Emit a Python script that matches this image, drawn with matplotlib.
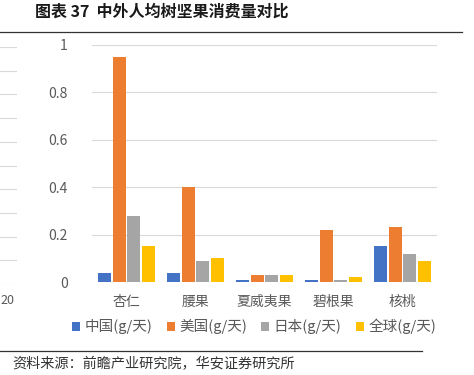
import numpy as np
import matplotlib.pyplot as plt

plt.rcParams['font.family'] = ['Noto Sans CJK SC', 'DejaVu Sans']

categories = ["杏仁", "腰果", "夏威夷果", "碧根果", "核桃"]
series = ["中国(g/天)", "美国(g/天)", "日本(g/天)", "全球(g/天)"]
china = [0.04, 0.04, 0.01, 0.01, 0.15]
usa = [0.95, 0.40, 0.03, 0.22, 0.23]
japan = [0.28, 0.09, 0.03, 0.01, 0.12]
world = [0.15, 0.10, 0.03, 0.02, 0.09]
yticks = [0, 0.2, 0.4, 0.6, 0.8, 1]
colors = ["#4472C4", "#ED7D31", "#A5A5A5", "#FFC000"]

fig = plt.figure(figsize=(4.74, 3.75), dpi=100)

# cropped neighbour chart at the left edge
axl = fig.add_axes([0, 1 - 284 / 375, 17 / 474, 237 / 375])
axl.set_ylim(0, 10)
axl.set_xlim(0, 1)
axl.set_yticks(range(11))
axl.grid(axis="y", color="#D9D9D9", lw=0.8)
axl.tick_params(left=False, bottom=False, labelleft=False, labelbottom=False)
for s in axl.spines.values():
    s.set_visible(False)
fig.text(0.0, 1 - 301 / 375, "20", fontsize=9, color="#595959", va="center")

ax = fig.add_axes([92 / 474, 1 - 282 / 375, 345 / 474, 237 / 375])
x = np.arange(len(categories))
w = 0.19
step = 0.21
for i, (vals, name) in enumerate(zip([china, usa, japan, world], series)):
    ax.bar(x + (i - 1.5) * step, vals, width=w, color=colors[i], label=name, zorder=3)

ax.set_xlim(-0.5, len(categories) - 0.5)
ax.set_ylim(0, 1)
ax.set_yticks(yticks)
ax.set_yticklabels([str(t) if t in (0, 1) else f"{t:.1f}" for t in yticks])
ax.set_xticks(x)
ax.set_xticklabels(categories)
ax.grid(axis="y", color="#D9D9D9", lw=0.8, zorder=0)
for s in ax.spines.values():
    s.set_visible(False)
ax.tick_params(left=False, bottom=False, colors="#595959", labelsize=10, pad=6)
ax.tick_params(axis="y", pad=14)

ax.legend(loc="upper center", bbox_to_anchor=(0.47, -0.1), ncol=4, frameon=False,
          fontsize=10.5, handlelength=0.55, handleheight=0.55, handletextpad=0.3,
          columnspacing=1.0, labelcolor="#595959")

fig.text(35 / 474, 1 - 12 / 375, "图表 37  中外人均树坚果消费量对比", fontsize=11.5,
         fontweight="bold", va="center", color="#1a1a1a")
fig.add_artist(plt.Line2D([0, 462 / 474], [1 - 32 / 375] * 2, color="#333333", lw=0.9))
fig.add_artist(plt.Line2D([0, 422 / 474], [1 - 351 / 375] * 2, color="#333333", lw=0.9))
fig.text(12 / 474, 1 - 364 / 375, "资料来源：前瞻产业研究院，华安证券研究所", fontsize=10.2,
         va="center", color="#333333")

fig.savefig("out.png", dpi=100)
